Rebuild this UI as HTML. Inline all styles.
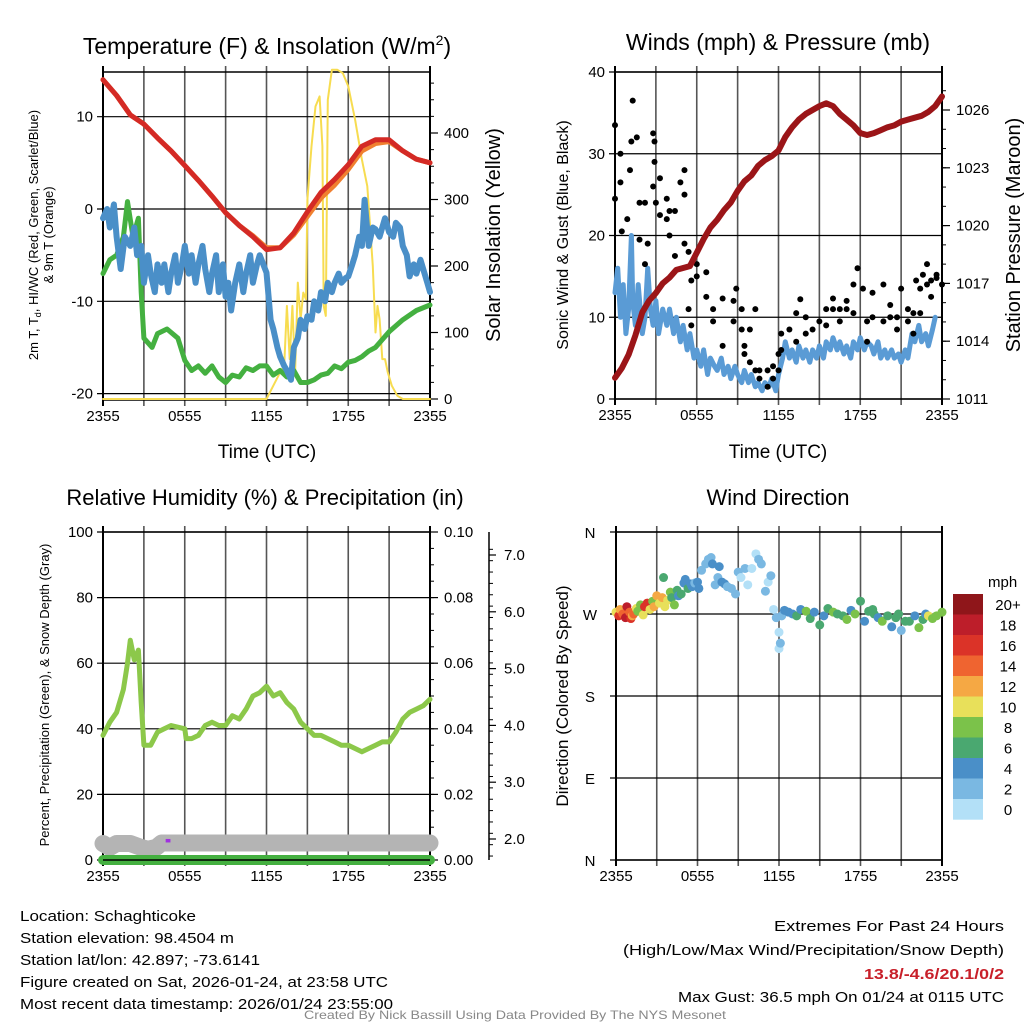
<!DOCTYPE html>
<html><head><meta charset="utf-8"><style>
html,body{margin:0;padding:0;background:#fff}
svg{display:block;font-family:"Liberation Sans",sans-serif}
</style></head><body>
<svg id="chart" width="1024" height="1024" viewBox="0 0 1024 1024" xmlns="http://www.w3.org/2000/svg">
<rect width="1024" height="1024" fill="#fff"/>
</svg>
<script>
// ---------- DATA ----------
const tempT=[0,1,2,3,4,5,6,7,8,9,10,11,12,13,14,15,16,17,18,19,20,21,22,23,24];
const tempRed=[14,12.3,10.2,9.2,7.7,6.3,4.7,3.1,1.4,-0.4,-1.8,-3,-4.4,-4.2,-2.6,-0.3,1.8,3.2,4.8,6.8,7.5,7.5,6.3,5.4,5];
const tempOrange=[14,12.3,10.2,9.2,7.7,6.3,4.7,3.1,1.4,-0.4,-1.8,-2.9,-4.2,-4.2,-2.8,-0.8,1.2,2.6,4.3,6.3,7.1,7.3,6.3,5.4,5];
const dewT=[0,0.5,1,1.5,1.8,2.2,2.6,2.8,3.0,3.6,4.0,4.7,5.5,6,6.5,7,7.5,8,8.5,9,9.5,10,10.5,11,11.5,12,12.5,13,13.5,14,14.5,15,15.5,16,16.5,17,17.5,18,18.5,19,19.5,20,21,22,23,24];
const dewVal=[-7,-5.5,-5,-3,0.8,-3,-1,-9,-14,-15,-13.5,-13,-14,-16.4,-17.5,-17,-17.8,-17,-18.2,-18.8,-18,-18.2,-17.2,-17.5,-17,-17,-18,-17.5,-18.2,-17.5,-18.8,-18.8,-18.5,-18,-17.8,-17,-17.3,-16.6,-16.4,-16,-15.4,-15,-13.3,-12,-11,-10.4];
const wcT=[0,0.3,0.5,0.8,1,1.3,1.6,2,2.3,2.5,2.8,3,3.3,3.5,3.8,4,4.3,4.5,4.8,5,5.3,5.5,5.8,6,6.3,6.5,6.8,7,7.3,7.5,7.8,8,8.3,8.5,8.8,9,9.2,9.4,9.7,10,10.3,10.5,10.8,11,11.3,11.5,12,12.3,12.5,12.8,13,13.3,13.5,13.8,14,14.3,14.5,14.8,15,15.3,15.5,15.8,16,16.3,16.5,16.8,17,17.3,17.5,17.8,18,18.3,18.5,18.8,19,19.2,19.5,19.8,20,20.3,20.7,21,21.3,21.5,21.8,22,22.3,22.5,22.8,23,23.3,23.5,23.8,24];
const wcVal=[-1,0,-2,0.5,-3,-6.5,-3,-4,-2,-5,-4,-8,-5,-7,-9,-6,-8,-6,-9,-7,-5,-8,-6,-4,-7,-5,-8,-6,-4,-6.5,-9,-7,-5,-9,-6,-9.5,-8,-11,-8,-6,-9,-7,-5,-8,-6,-5,-6.9,-12,-13,-15,-16,-17,-17.5,-18.5,-15,-14,-12,-13,-11.6,-12,-10,-11,-9,-10,-8,-9,-8,-7,-8,-7.5,-7.3,-6,-5,-3,-4,1,-4,-2,-2.2,-3,-1,-2.5,-3,-1.5,-2,-4,-5,-7.3,-6,-7,-5.5,-6.5,-8,-9];
const solT=[0,12,12.5,13,13.3,13.5,13.7,13.9,14.1,14.3,14.5,14.7,14.9,15.0,15.3,15.6,15.9,16.1,16.2,16.35,16.5,16.8,17.2,17.6,18.0,18.5,19.0,19.4,19.8,20.0,20.15,20.3,20.5,20.7,20.9,21.2,21.6,22.0,24];
const solVal=[0,0,20,40,50,140,60,140,40,175,120,160,150,300,380,440,455,380,140,125,450,495,495,490,470,420,360,320,200,100,140,120,60,60,40,20,5,0,0];
const windT=[0,0.2,0.4,0.6,0.8,1,1.2,1.3,1.5,1.7,2,2.2,2.4,2.6,2.8,3,3.2,3.5,3.8,4,4.3,4.5,4.8,5,5.3,5.5,5.8,6,6.3,6.5,6.8,7,7.3,7.5,7.8,8,8.3,8.5,8.8,9,9.3,9.5,9.8,10,10.3,10.5,10.8,11,11.3,11.5,11.8,12,12.3,12.5,12.8,13,13.3,13.5,13.8,14,14.3,14.5,14.8,15,15.3,15.5,15.8,16,16.3,16.5,16.8,17,17.3,17.5,17.8,18,18.3,18.5,18.8,19,19.3,19.5,19.8,20,20.3,20.5,20.8,21,21.3,21.5,21.8,22,22.3,22.5,22.8,23,23.3,23.5,23.8,24];
const windVal=[13,16,10,14,8,11,20,12,9,14,8,10,16,11,9,12,8,11,9,11,8,10,7,9,6,8,5,6,4,6,3,5,4,3.5,5,3,4,2.5,4,3,2,3.5,2,3,1.5,2,1,2,1.5,2.5,1,3,5,7,5,6,4.5,6.5,5,6,4.5,6,5,6.5,5,7,6,7.5,6,7,5.5,6.5,5,7,6,7.5,6,7,6.5,5.5,7,5,6,5,6,5,5.5,4.5,6,5,8,7,9,7,8,6.5,8.5,10];
const gustT=[0,0,0.4,0.4,0.5,0.9,1.1,1.2,1.3,1.6,1.8,1.8,2.2,2.2,2.4,2.8,2.8,2.9,2.9,3.0,3.3,3.3,3.8,3.8,4,4,4.4,4.4,4.8,5.1,5.1,5.1,5.4,5.4,5.6,5.6,6,6,6.7,6.7,7.2,7.2,7.9,7.9,8.7,8.7,8.9,9.3,9.3,9.5,9.5,9.9,9.9,10.3,10.3,10.6,10.6,11.2,11.2,11.6,11.6,12,12,12.2,12.2,12.8,13.3,13.3,13.6,14,14,14.5,15,15.5,15.5,16,16,16.5,16.5,17,17,17.5,17.5,17.8,18.2,18.5,18.5,18.9,18.9,19.7,19.7,20.2,20.2,20.7,20.7,21,21.5,21.5,21.9,21.9,22.1,22.4,22.4,22.6,22.9,22.9,23.2,23.2,23.6,23.6,24];
const gustVal=[24.5,33.5,30,26.5,20.5,22,28,31.5,36.5,32,24,19.5,24,16.5,19,32.5,26,31.5,29,24,27,22.5,24.5,22,20,23,17.5,23,26.5,28,25,19,18,11,14.5,9,16.5,15,15.5,12.5,11,9.5,12.3,6.5,12,9.5,13.5,11,8.5,6.5,5.5,8.5,4.5,11,3.5,3.5,2.5,3.5,1.5,4,2.5,5.5,3.5,8,6,8.5,10.5,7,12.2,8,10,8.5,9.5,9,11,12.3,11,11,9.5,12,11,14,10.5,16,13.5,9.5,7,13,10,14,9.5,11.5,10,10,8.5,13.5,11,9.5,10.5,8,14.5,13.5,10.5,15.2,16.5,14,12.5,14.5,15.2,14.8,14];
const presT=[0,0.5,1,1.5,2,2.5,3,3.5,4,4.5,5,5.5,6,6.5,7,7.5,8,8.5,9,9.5,10,10.5,11,11.5,12,12.5,13,13.5,14,14.5,15,15.5,16,16.5,17,17.5,18,18.5,19,19.5,20,20.5,21,21.5,22,22.5,23,23.5,24];
const presVal=[1012.1,1012.6,1013.3,1014.3,1015.5,1016.1,1016.5,1017,1017.3,1017.7,1017.8,1017.9,1018.6,1019.3,1019.9,1020.3,1020.8,1021.2,1021.8,1022.3,1022.6,1023.1,1023.4,1023.6,1023.9,1024.6,1025.1,1025.5,1025.8,1026,1026.2,1026.35,1026.2,1025.8,1025.5,1025.2,1024.8,1024.7,1024.8,1024.95,1025.1,1025.2,1025.4,1025.5,1025.6,1025.7,1025.9,1026.2,1026.7];
const rhT=[0,0.5,1,1.5,1.8,2,2.3,2.6,2.8,3,3.5,4,4.5,5,6,6.1,6.5,7,7.5,8,8.5,9,9.5,10,10.5,11,11.5,12,12.5,13,13.5,14,14.5,15,15.5,16,16.5,17,17.5,18,18.5,19,19.5,20,20.5,21,21.5,22,22.5,23,23.5,24];
const rhVal=[38,42,45,52,60,67,61,64,48,35,35,39,40,41,40,37,37,38,41,42,41,41,44,43,46,50,51,53,50,51,48,46,42,40,38,38,37,36,35,35,34,33,34,35,36,36,39,43,45,46,47,49];
const snowT=[0,0.5,1,2,2.8,3.3,3.9,4.3,24];
const snowVal=[1.92,1.85,1.92,1.92,1.85,1.82,1.85,1.93,1.93];
const precipT=[0,24];
const precipVal=[0,0];
const wdT=[0,0.2,0.3,0.5,0.7,0.8,1,1.1,1.2,1.3,1.5,1.6,1.8,2,2.1,2.3,2.5,2.7,2.8,3,3.2,3.4,3.5,3.6,3.8,4,4.1,4.3,4.5,4.6,4.8,5,5.1,5.3,5.5,5.6,5.8,6,6.1,6.3,6.6,6.8,7,7.1,7.3,7.5,7.6,7.8,8,8.2,8.5,8.8,9,9.2,9.5,9.7,10,10.3,10.5,10.7,11,11.2,11.4,11.6,11.8,12,12,12.1,12.2,12.4,12.7,13,13.3,13.6,14,14.3,14.6,15,15.3,15.6,16,16.3,16.7,17,17.3,17.6,18,18.3,18.6,18.9,19,19.3,19.6,20,20.3,20.6,20.8,21,21.3,21.6,22,22.3,22.6,22.8,23,23.3,23.6,24];
const wdDir=[272,268,275,270,266,278,272,265,268,270,276,273,280,269,278,282,275,284,278,290,282,288,310,278,285,294,288,280,296,290,292,304,308,298,303,300,304,305,298,318,325,330,332,325,302,310,322,305,303,300,298,292,316,310,320,302,320,336,330,325,295,305,312,275,266,250,232,238,268,274,272,270,268,275,273,265,272,258,268,276,272,270,268,264,274,270,284,262,273,275,270,266,262,268,256,266,270,252,262,262,268,255,264,270,268,265,268,272];
const wdSpd=[11,17,13,15,18,19,14,16,13,15,10,9,8,11,16,17,11,9,13,12,10,12,6,11,10,8,6,9,6,5,7,4,5,6,4,5,3,4,4,3,3,2,3,4,3,3,4,4,4,3,3,2,3,1,2,1,1,1,3,3,2,1,2,1,3,1,1,2,3,4,4,5,7,4,8,6,5,7,4,6,8,7,6,9,5,8,6,4,6,7,6,5,8,7,4,6,7,3,6,6,4,8,7,5,10,9,8,9];
const cbLabels=["20+","18","16","14","12","10","8","6","4","2","0"];
const cbColors=["#8f161a","#bd1e2a","#db3328","#ef6430","#f5a844","#e8e05a","#7bc24a","#4aa870","#4a8fc8","#7ab8e2","#b3e0f7"];
const xTickLabels=["2355","0555","1155","1755","2355"];

// ---------- HELPERS ----------
const NS="http://www.w3.org/2000/svg";
const svg=document.getElementById('chart');
function el(tag,attrs,parent){const e=document.createElementNS(NS,tag);for(const k in attrs)e.setAttribute(k,attrs[k]);(parent||svg).appendChild(e);return e;}
function txt(s,attrs,parent){const e=el('text',attrs,parent);e.textContent=s;return e;}
function sx(p,t){return p.x0+t*(p.x1-p.x0)/24;}
function lin(v0,y0,v1,y1){return v=>y0+(v-v0)*(y1-y0)/(v1-v0);}
function path(p,ts,vs,fy,color,w,name){
  let d='';for(let i=0;i<ts.length;i++){d+=(i?'L':'M')+sx(p,ts[i]).toFixed(1)+','+fy(vs[i]).toFixed(1);}
  const e=el('path',{d:d,fill:'none',stroke:color,'stroke-width':w,'stroke-linejoin':'round','stroke-linecap':'round'});
  
  
  return e;
}
function frame(p,name,hTicks,fy){
  const g=el('g',{});
  
  
  for(let i=0;i<=8;i++){const x=sx(p,i*3);el('line',{x1:x,x2:x,y1:p.y0-6,y2:p.y1+6,stroke:(i==0||i==8)?'#000':'#555','stroke-width':(i==0||i==8)?2:1.6},g);}
  hTicks.forEach(v=>{const y=fy(v);el('line',{x1:p.x0-6,x2:p.x1,y1:y,y2:y,stroke:'#000','stroke-width':1.2},g);});
  el('line',{x1:p.x0,x2:p.x1,y1:p.y0,y2:p.y0,stroke:'#000','stroke-width':1.5},g);
  el('line',{x1:p.x0,x2:p.x1,y1:p.y1,y2:p.y1,stroke:'#000','stroke-width':1.5},g);
  xTickLabels.forEach((s,i)=>{const t=txt(s,{x:sx(p,i*6),y:p.y1+21,'font-size':15,'text-anchor':'middle'});
    
    });
}
function ylabels(p,vals,fy,fmt,side,name){
  vals.forEach(v=>{const y=fy(v);
    const t=txt(fmt(v),{x:side=='l'?p.x0-10:p.x1+14,y:y+5,'font-size':15,'text-anchor':side=='l'?'end':'start'});
    
    
    if(side=='r')el('line',{x1:p.x1,x2:p.x1+8,y1:y,y2:y,stroke:'#000','stroke-width':1.2});});
}
function title(s,x,y,size,name,rot){
  const a={x:x,y:y,'font-size':size,'text-anchor':'middle'};
  if(rot)a.transform='rotate(-90 '+x+' '+y+')';
  const t=txt(s,a);
  
  
  return t;
}

// ---------- PANEL 1: Temperature ----------
const P1={x0:103,x1:430,y0:72,y1:400};
const fT=lin(0,209,10,116.7), fS=lin(0,399,400,133);
frame(P1,'temp-panel',[10,0,-10,-20],fT);
ylabels(P1,[10,0,-10,-20],fT,v=>String(v),'l','temp-y-tick');
ylabels(P1,[0,100,200,300,400],fS,v=>String(v),'r','solar-y-tick');
for(let v=0;v<=480;v+=25){const y=fS(v);if(y>=P1.y0)el('line',{x1:P1.x1,x2:P1.x1+4,y1:y,y2:y,stroke:'#000'});}
el('line',{x1:P1.x1,x2:P1.x1,y1:P1.y0,y2:P1.y1,stroke:'#000','stroke-width':2});
path(P1,solT,solVal,fS,'#f7dc50',2,'solar-line');
path(P1,dewT,dewVal,fT,'#44b040',5,'dewpoint-line');
path(P1,wcT,wcVal,fT,'#4a8fc8',6,'windchill-line');
path(P1,tempT,tempOrange,fT,'#f08030',5,'temp-9m-line');
path(P1,tempT,tempRed,fT,'#d42a25',5,'temp-2m-line');
{const t=txt('',{x:267,y:54,'font-size':23,'text-anchor':'middle'});t.innerHTML='Temperature (F) &amp; Insolation (W/m<tspan dy="-9" font-size="14">2</tspan><tspan dy="9">)</tspan>';

}
title('Time (UTC)',267,458,19,'temp-x-axis-title');
{const t=txt('',{x:38,y:235,'font-size':13,'text-anchor':'middle',transform:'rotate(-90 38 235)'});t.innerHTML='2m T, T<tspan dy="3" font-size="9">d</tspan><tspan dy="-3">, HI/WC (Red, Green, Scarlet/Blue)</tspan>';

}
title('& 9m T (Orange)',53,235,13,'temp-y-axis-title-2',true);
title('Solar Insolation (Yellow)',500,235,20,'solar-y-axis-title',true);

// ---------- PANEL 2: Winds ----------
const P2={x0:615,x1:942,y0:72,y1:399};
const fW=lin(0,399,40,72), fP=lin(1011,399,1026,110);
frame(P2,'wind-panel',[40,30,20,10,0],fW);
ylabels(P2,[40,30,20,10,0],fW,v=>String(v),'l','wind-y-tick');
ylabels(P2,[1011,1014,1017,1020,1023,1026],fP,v=>String(v),'r','pressure-y-tick');
for(let v=1011;v<=1027;v+=1){const y=fP(v);if(y>=P2.y0)el('line',{x1:P2.x1,x2:P2.x1+4,y1:y,y2:y,stroke:'#000'});}
el('line',{x1:P2.x1,x2:P2.x1,y1:P2.y0,y2:P2.y1,stroke:'#000','stroke-width':2});
path(P2,windT,windVal,fW,'#5a9bd5',5,'wind-speed-line');
gustT.forEach((t,i)=>{const c=el('circle',{cx:sx(P2,t),cy:fW(gustVal[i]),r:3,fill:'#000'});
  
  });
path(P2,presT,presVal,fP,'#9b1518',6,'pressure-line');
title('Winds (mph) & Pressure (mb)',778,50,23,'wind-panel-title');
title('Time (UTC)',778,458,19,'wind-x-axis-title');
title('Sonic Wind & Gust (Blue, Black)',568,235,16,'wind-y-axis-title',true);
title('Station Pressure (Maroon)',1020,235,20,'pressure-y-axis-title',true);

// ---------- PANEL 3: RH ----------
const P3={x0:103,x1:430,y0:532,y1:860};
const fR=lin(0,860,100,532), fPr=lin(0,860,0.1,532), fSn=lin(2,839,7,555);
frame(P3,'rh-panel',[100,80,60,40,20,0],fR);
ylabels(P3,[100,80,60,40,20,0],fR,v=>String(v),'l','rh-y-tick');
ylabels(P3,[0,0.02,0.04,0.06,0.08,0.1],fPr,v=>v.toFixed(2),'r','precip-y-tick');
for(let v=0;v<=0.1001;v+=0.005){const y=fPr(v);el('line',{x1:P3.x1,x2:P3.x1+4,y1:y,y2:y,stroke:'#000'});}
el('line',{x1:P3.x1,x2:P3.x1,y1:P3.y0,y2:P3.y1,stroke:'#000','stroke-width':2});
el('line',{x1:489,x2:489,y1:532,y2:860,stroke:'#000','stroke-width':1.5});
[2,3,4,5,6,7].forEach(v=>{const y=fSn(v);el('line',{x1:489,x2:496,y1:y,y2:y,stroke:'#000','stroke-width':1.2});
  const t=txt(v.toFixed(1),{x:504,y:y+5,'font-size':15});
  
  });
for(let v=1.7;v<=7.3;v+=0.2){const y=fSn(v);if(y>=532&&y<=860)el('line',{x1:489,x2:493,y1:y,y2:y,stroke:'#000'});}
path(P3,snowT,snowVal,fSn,'#b4b4b4',17,'snow-depth-line');
{const x=sx(P3,4.6);const e=el('line',{x1:x,x2:sx(P3,4.95),y1:fSn(1.97),y2:fSn(1.97),stroke:'#a030e0','stroke-width':3.5});

}
path(P3,precipT,precipVal,fPr,'#44b040',10,'precip-line');
el('line',{x1:P3.x0,x2:P3.x1,y1:860,y2:860,stroke:'#000','stroke-width':1.5});
path(P3,rhT,rhVal,fR,'#8cc84a',5,'rh-line');
title('Relative Humidity (%) & Precipitation (in)',265,505,22,'rh-panel-title');
title('Percent, Precipitation (Green), & Snow Depth (Gray)',49,695,13,'rh-y-axis-title',true);

// ---------- PANEL 4: Wind direction ----------
const P4={x0:616,x1:942,y0:532,y1:860};
const fD=lin(0,860,360,532);
frame(P4,'dir-panel',[360,270,180,90,0],fD);
[["N",360],["W",270],["S",180],["E",90],["N",0]].forEach(a=>{const t=txt(a[0],{x:590,y:fD(a[1])+6,'font-size':15,'text-anchor':'middle'});
  
  });
function spdColor(s){let i=Math.min(10,Math.floor(s/2));return cbColors[10-i];}
wdT.forEach((t,i)=>{const c=el('circle',{cx:sx(P4,t),cy:fD(wdDir[i]),r:4.5,fill:spdColor(wdSpd[i])});
  
  });
title('Wind Direction',778,505,22,'dir-panel-title');
title('Direction (Colored By Speed)',568,696,17,'dir-y-axis-title',true);
{const t=txt('mph',{x:988,y:587,'font-size':15});}
cbLabels.forEach((s,i)=>{const y=594+i*20.5;
  const r=el('rect',{x:953,y:y,width:30,height:20.7,fill:cbColors[i]});
  
  
  const t=txt(s,{x:1008,y:y+16,'font-size':15,'text-anchor':'middle'});
  
  });

// ---------- FOOTER ----------
const leftLines=[["Location: Schaghticoke",176],["Station elevation: 98.4504 m",214],["Station lat/lon: 42.897; -73.6141",240],["Figure created on Sat, 2026-01-24, at 23:58 UTC",368],["Most recent data timestamp: 2026/01/24 23:55:00",373]];
leftLines.forEach((l,i)=>{const t=txt(l[0],{x:20,y:921+i*22,'font-size':15,textLength:l[1],lengthAdjust:'spacingAndGlyphs'});
  
  });
const rightLines=[["Extremes For Past 24 Hours",230,931,'#000','normal'],["(High/Low/Max Wind/Precipitation/Snow Depth)",381,955,'#000','normal'],["13.8/-4.6/20.1/0/2",140,979,'#c8202a','bold'],["Max Gust: 36.5 mph On 01/24 at 0115 UTC",326,1002,'#000','normal']];
rightLines.forEach(l=>{const t=txt(l[0],{x:1004-l[1],y:l[2],'font-size':15,fill:l[3],'font-weight':l[4],textLength:l[1],lengthAdjust:'spacingAndGlyphs'});
  
  });
{const t=txt('Created By Nick Bassill Using Data Provided By The NYS Mesonet',{x:304,y:1019,'font-size':12,fill:'#888',textLength:422,lengthAdjust:'spacingAndGlyphs'});

}
</script>
</body></html>
